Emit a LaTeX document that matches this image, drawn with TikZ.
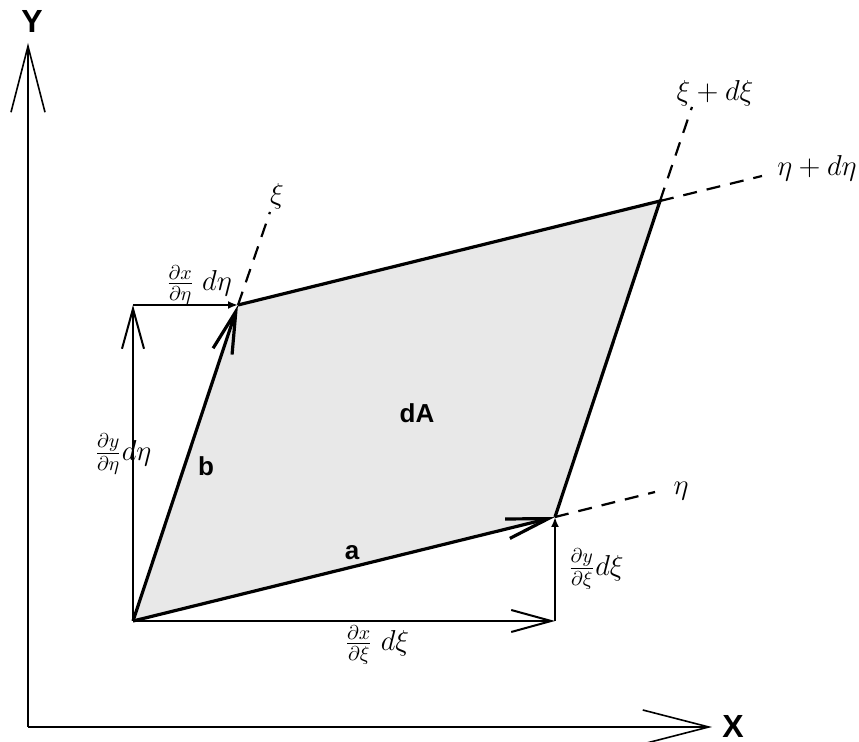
\documentclass[tikz,border=0pt]{standalone}
\usepackage{fontspec}
\newfontfamily\labelsf{Liberation Sans}
\usetikzlibrary{arrows.meta}

\begin{document}
\begin{tikzpicture}[x=0.5pt,y=-0.5pt,
    every node/.style={font=\Large},
    axisline/.style={line width=0.8pt,-{Straight Barb[length=33pt,width=17pt]}},
    comp/.style={line width=1pt,-{Straight Barb[length=20pt,width=11pt]}},
    compsmall/.style={line width=1pt,-{Latex[length=5pt,width=4pt]}},
    sidevec/.style={line width=1.6pt,-{Straight Barb[length=21pt,width=10pt]}},
    side/.style={line width=1.6pt},
    guide/.style={line width=1.1pt,dash pattern=on 7pt off 5pt},
    boldlab/.style={font=\labelsf\bfseries\fontsize{13}{15}\selectfont},
    axislab/.style={inner sep=0pt,font=\labelsf\bfseries\fontsize{16}{18}\selectfont}
  ]
  \useasboundingbox (0,0) rectangle (859,742);
  %% Axes
  \coordinate (O)    at (28,727);
  \coordinate (Ytip) at (28,43);
  \coordinate (Xtip) at (712,727);
  \draw[axisline] (O) -- (Ytip);
  \draw[axisline] (O) -- (Xtip);
  \node[axislab] (ylab) at (32,22)  {Y};
  \node[axislab] (xlab) at (733,726) {X};
  %% Corners of the area element
  \coordinate (p0) at (133,621);
  \coordinate (pa) at (555,517);
  \coordinate (pb) at (238,305);
  \coordinate (pab) at (660,201);
  \coordinate (qa) at (555,621);
  \coordinate (qb) at (133,305);
  \fill[gray!18] (p0) -- (pa) -- (pab) -- (pb) -- cycle;
  %% Components
  \draw[comp] (p0) -- (qa);
  \draw[compsmall] (qa) -- (pa);
  \draw[comp] (p0) -- (qb);
  \draw[compsmall] (qb) -- (pb);
  \node (dxxi)  at (377,645) {$\frac{\partial x}{\partial \xi}\;d\xi$};
  \node (dyxi)  at (596,569) {$\frac{\partial y}{\partial \xi}d\xi$};
  \node (dyeta) at (123,454) {$\frac{\partial y}{\partial \eta}d\eta$};
  \node (dxeta) at (199,285) {$\frac{\partial x}{\partial \eta}\;d\eta$};
  %% Sides
  \draw[side] (pa) -- (pab) -- (pb);
  \draw[sidevec] (p0) -- (pa);
  \draw[sidevec] (p0) -- (pb);
  \node[boldlab] (alab)  at (352,553) {a};
  \node[boldlab] (blab)  at (206,466) {b};
  \node[boldlab] (dalab) at (417,413) {dA};
  %% Coordinate lines
  \coordinate (xiend)    at (270,212);
  \coordinate (etaend)   at (655,492);
  \coordinate (xidend)   at (692,107);
  \coordinate (etadend)  at (762,176);
  \draw[guide] (pb)  -- (xiend);
  \draw[guide] (pa)  -- (etaend);
  \draw[guide] (pab) -- (xidend);
  \draw[guide] (pab) -- (etadend);
  \node (xilab)   at (277,196) {$\xi$};
  \node (etalab)  at (681,491) {$\eta$};
  \node (xidlab)  at (715,93)  {$\xi + d\xi$};
  \node (etadlab) at (817,168) {$\eta + d\eta$};
\end{tikzpicture}
\end{document}
